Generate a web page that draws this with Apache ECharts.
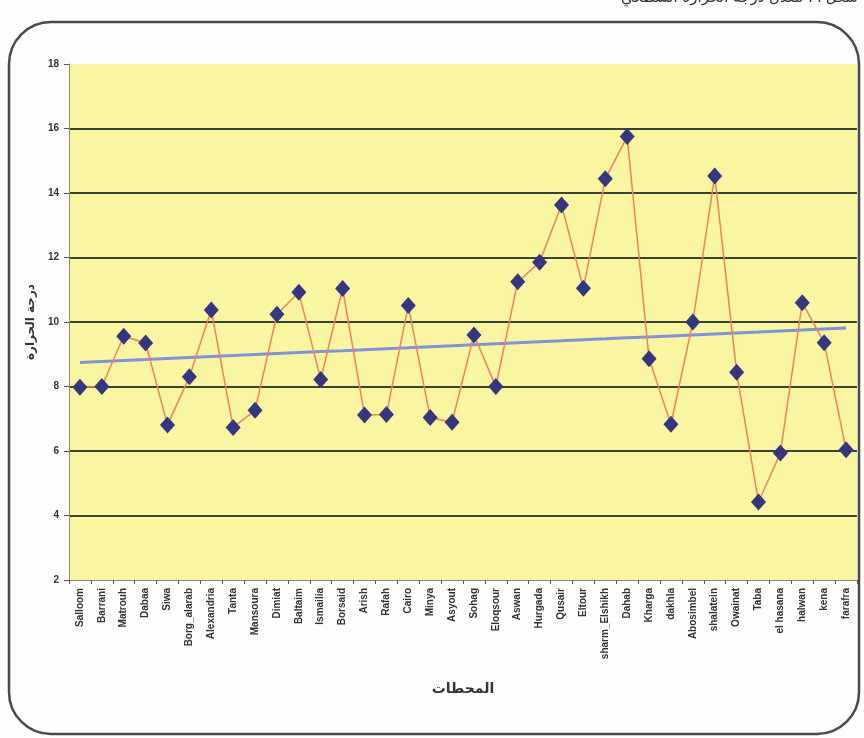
<!DOCTYPE html>
<html><head><meta charset="utf-8">
<style>html,body{margin:0;padding:0;background:#fff;}#c{width:864px;height:738px;}</style>
<script src="https://cdn.jsdelivr.net/npm/echarts@6/dist/echarts.min.js"></script>
</head><body><div id="c"></div>
<script>
var stations = ["Salloom","Barrani","Matrouh","Dabaa","Siwa","Borg_alarab","Alexandria","Tanta","Mansoura","Dimiat","Baltaim","Ismailia","Borsaid","Arish","Rafah","Cairo","Minya","Asyout","Sohag","Eloqsour","Aswan","Hurgada","Qusair","Eltour","sharm_Elshikh","Dahab","Kharga","dakhla","Abosimbel","shalatein","Owainat","Taba","el hasana","halwan","kena","farafra"];
var temperature = [7.98,8.0,9.56,9.35,6.81,8.3,10.37,6.73,7.26,10.24,10.92,8.22,11.04,7.12,7.13,10.51,7.04,6.89,9.6,8.0,11.25,11.85,13.63,11.05,14.44,15.75,8.86,6.83,10.0,14.53,8.44,4.42,5.94,10.6,9.36,6.04];
var yTicks = [2,4,6,8,10,12,14,16,18];

// linear trend (least squares) derived from the data
var n = temperature.length, sx=0, sy=0, sxy=0, sxx=0;
temperature.forEach(function(v,i){ sx+=i; sy+=v; sxy+=i*v; sxx+=i*i; });
var slope = (n*sxy - sx*sy)/(n*sxx - sx*sx);
var icpt = (sy - slope*sx)/n;
var trend = temperature.map(function(v,i){ return +(icpt + slope*i).toFixed(3); });

var gridColors = yTicks.map(function(t,i){ return (i===0||i===yTicks.length-1) ? 'rgba(0,0,0,0)' : '#3a4230'; });

var chart = echarts.init(document.getElementById('c'), null, {renderer:'canvas'});
chart.setOption({
  backgroundColor:'#fdfdfb',
  animation:false,
  graphic:[
    {type:'rect', shape:{x:9,y:22,width:850,height:712,r:[42,42,42,42]}, style:{fill:'none', stroke:'#4a4a4a', lineWidth:2.5}, z:0},
    {type:'text', right:6, top:-9, style:{text:'شكل ٦: معدل درجة الحرارة السطحي', font:'15px "DejaVu Sans", sans-serif', fill:'#333'}},
  ],
  grid:{left:69, right:7, top:64, bottom:158, show:true, backgroundColor:'#faf5a0', borderWidth:0},
  xAxis:{
    type:'category', data:stations, boundaryGap:true,
    name:'المحطات', nameLocation:'middle', nameGap:102,
    nameTextStyle:{fontSize:14, fontWeight:'bold', color:'#333', fontFamily:'"DejaVu Sans", sans-serif'},
    axisLine:{show:true, lineStyle:{color:'#8a8a70', width:1}},
    axisTick:{show:true, alignWithLabel:false, length:4, lineStyle:{color:'#555'}},
    axisLabel:{rotate:90, interval:0, fontSize:10, fontWeight:'bold', color:'#333', fontFamily:'"Liberation Sans", Arial, sans-serif', margin:8}
  },
  yAxis:{
    type:'value', min:2, max:18, interval:2,
    name:'درجة الحرارة', nameLocation:'middle', nameGap:30, nameRotate:90,
    nameTextStyle:{fontSize:12, fontWeight:'bold', color:'#333', fontFamily:'"DejaVu Sans", sans-serif'},
    axisLine:{show:true, lineStyle:{color:'#8a8a80', width:1}},
    axisTick:{show:true, length:5, lineStyle:{color:'#555'}},
    axisLabel:{fontSize:10, fontWeight:'bold', color:'#333', fontFamily:'"Liberation Sans", Arial, sans-serif', margin:10},
    splitLine:{show:true, lineStyle:{color:gridColors, width:2}}
  },
  series:[
    {type:'line', data:trend, symbol:'none', lineStyle:{color:'#7f93d6', width:3}, z:2, silent:true},
    {type:'line', data:temperature, symbol:'diamond', symbolSize:[15,17],
     itemStyle:{color:'#35367f'}, lineStyle:{color:'#f0805e', width:1.5}, z:3}
  ]
});
</script></body></html>
